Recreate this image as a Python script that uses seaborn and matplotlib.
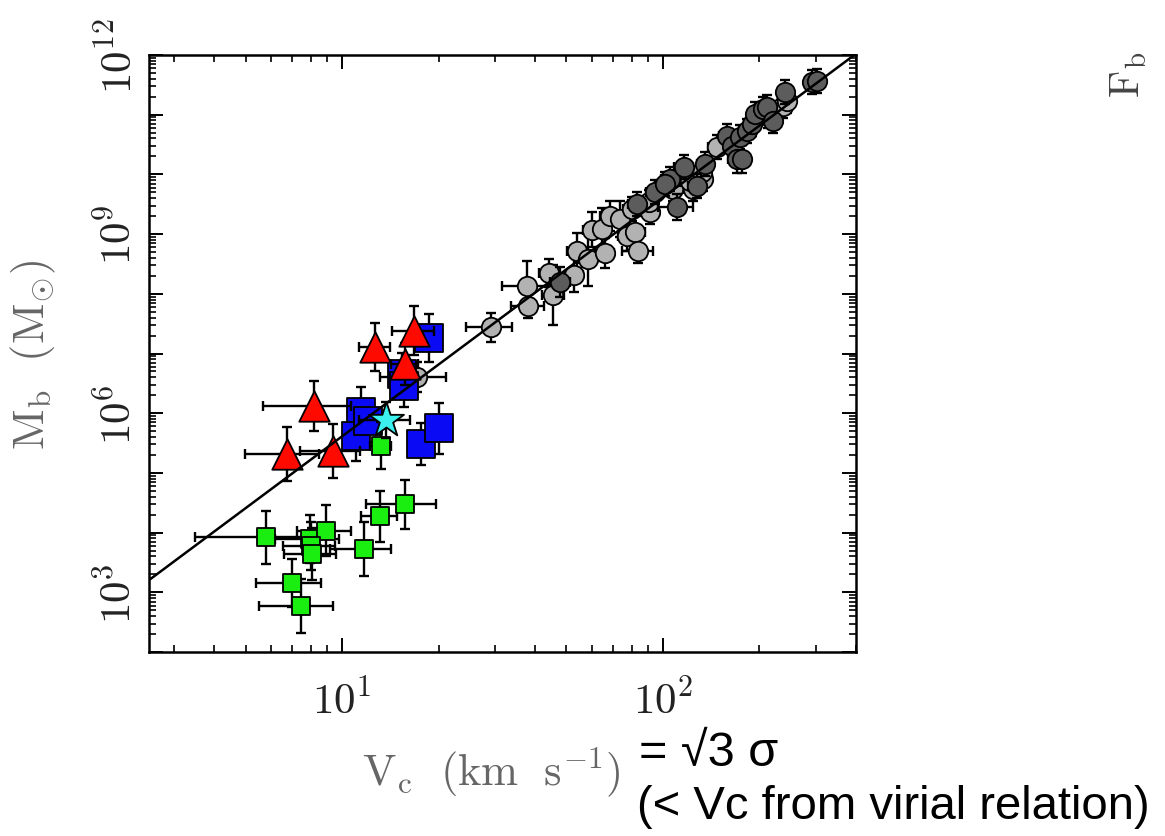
import numpy as np
import pandas as pd
import matplotlib
matplotlib.use("Agg")
import matplotlib.pyplot as plt
from matplotlib.ticker import FixedLocator, FixedFormatter, LogLocator, NullFormatter
import seaborn as sns

# ---------------- data ----------------
# light-gray circles (V_c km/s, M_b Msun, xerr km/s, yerr dex)
gl_v = [29.1, 37.7, 38.1, 44.2, 45.5, 52.9, 54.1, 58.3, 65.9, 60.2, 64.7, 68.5, 73.6, 77.3,
        82.0, 83.9, 80.1, 91.3, 90.2, 107.9, 113.2, 124.5, 121.6, 133.8, 132.3, 147.3,
        213.3, 237.5, 243.4, 17.1]
gl_m = [2.73e7, 1.34e8, 6.25e7, 2.23e8, 9.5e7, 2.1e8, 5.3e8, 3.76e8, 4.9e8, 1.19e9, 1.22e9,
        2.03e9, 1.79e9, 9.4e8, 1.07e9, 5.3e8, 2.63e9, 2.32e9, 3.41e9, 5.69e9, 9.5e9, 5.69e9,
        7.8e9, 8.4e9, 1.08e10, 2.85e10, 9.6e10, 1.42e11, 1.72e11, 4.04e6]
gl_xerr = [4.8, 6.2, 4.4, 3.0, 3.5, 3.5, 4.0, 4.0, 4.5, 4.0, 4.0, 5.0, 5.0, 5.0,
           6.0, 9.5, 5.0, 6.0, 6.0, 7.0, 7.0, 9.0, 8.0, 8.0, 8.0, 9.0,
           10.0, 10.0, 10.0, 4.0]
gl_yerr = [0.24, 0.43, 0.20, 0.23, 0.50, 0.30, 0.30, 0.44, 0.25, 0.30, 0.35, 0.25, 0.30, 0.25,
           0.35, 0.20, 0.20, 0.20, 0.20, 0.20, 0.20, 0.20, 0.20, 0.20, 0.20, 0.20,
           0.20, 0.20, 0.20, 0.25]

# dark-gray circles
gd_v = [47.9, 83.0, 94.6, 110.5, 105.4, 116.0, 135.4, 158.3, 164.1, 170.1, 176.2, 174.1,
        182.7, 189.4, 193.9, 205.8, 210.9, 221.1, 240.4, 291.2, 301.9, 101.7, 128.0]
gd_m = [1.56e8, 3.19e9, 5.0e9, 2.81e9, 8.4e9, 1.31e10, 1.49e10, 4.45e10, 3.03e10, 1.81e10,
        1.81e10, 4.18e10, 5.4e10, 6.98e10, 1.03e11, 1.24e11, 1.33e11, 7.95e10, 2.37e11,
        3.49e11, 3.72e11, 6.9e9, 6.4e9]
gd_xerr = [3.5, 5.0, 6.0, 14.0, 7.0, 8.0, 8.0, 9.0, 9.0, 10.0, 10.0, 10.0,
           10.0, 10.0, 10.0, 10.0, 10.0, 10.0, 10.0, 12.0, 12.0, 7.0, 8.0]
gd_yerr = [0.25, 0.20, 0.20, 0.22, 0.20, 0.20, 0.20, 0.20, 0.20, 0.24, 0.24, 0.20,
           0.20, 0.20, 0.20, 0.20, 0.20, 0.20, 0.20, 0.20, 0.20, 0.20, 0.20]

# red triangles
red_v = [12.7, 16.8, 15.7, 8.16, 6.74, 9.38]
red_m = [1.27e7, 2.4e7, 6.7e6, 1.34e6, 2.07e5, 2.36e5]
red_xerr = [1.4, 2.5, 1.5, 2.5, 1.75, 2.0]
red_yerr = [0.40, 0.41, 0.35, 0.42, 0.45, 0.45]

# blue squares
blue_v = [18.6, 15.4, 15.6, 11.46, 11.06, 12.08, 17.6, 20.0]
blue_m = [1.8e7, 4.5e6, 2.86e6, 1.03e6, 4.2e5, 7.4e5, 3.05e5, 5.6e5]
blue_xerr = [1.0, 1.0, 1.0, 1.0, 1.0, 1.0, 1.0, 1.0]
blue_yerr = [0.40, 0.35, 0.35, 0.42, 0.42, 0.35, 0.35, 0.43]

# green squares
green_v = [13.2, 5.77, 7.96, 8.93, 8.02, 8.08, 11.68, 13.15, 15.74, 6.98, 7.45]
green_m = [2.86e5, 8.3e3, 7.8e3, 1.08e4, 5.97e3, 4.4e3, 5.3e3, 1.88e4, 3.0e4, 1.43e3, 582]
green_xerr = [1.0, 2.3, 1.8, 1.7, 1.5, 1.5, 2.5, 1.7, 3.85, 1.6, 1.95]
green_yerr = [0.39, 0.45, 0.40, 0.43, 0.40, 0.43, 0.45, 0.43, 0.41, 0.40, 0.45]

# cyan star
star_v = [13.75]
star_m = [7.8e5]
star_xerr = [2.5]
star_yerr = [0.30]

# baryonic Tully-Fisher line  M = A * V^4
btf_slope = 4.0
btf_norm = 41.0

xtick_vals = [10, 100]
xtick_labels = [r'$10^{1}$', r'$10^{2}$']
ytick_vals = [1e2, 1e3, 1e4, 1e5, 1e6, 1e7, 1e8, 1e9, 1e10, 1e11, 1e12]
ytick_labels = ['', r'$10^{3}$', '', '', r'$10^{6}$', '', '', r'$10^{9}$', '', '', r'$10^{12}$']

# ---------------- plot ----------------
sns.set_theme(style="ticks")
plt.rcParams['mathtext.fontset'] = 'cm'
plt.rcParams['font.family'] = ['DejaVu Serif', 'DejaVu Sans']

fig = plt.figure(figsize=(11.65, 8.37), dpi=100)
ax = fig.add_axes([149 / 1165, 1 - 653 / 837, 707 / 1165, 597 / 837])
ax.set_xscale('log')
ax.set_yscale('log')

groups = [
    dict(v=gl_v, m=gl_m, xe=gl_xerr, ye=gl_yerr, marker='o', s=195, color='#b2b2b2'),
    dict(v=gd_v, m=gd_m, xe=gd_xerr, ye=gd_yerr, marker='o', s=195, color='#5c5c5c'),
    dict(v=blue_v, m=blue_m, xe=blue_xerr, ye=blue_yerr, marker='s', s=380, color='#0a0af5'),
    dict(v=red_v, m=red_m, xe=red_xerr, ye=red_yerr, marker='^', s=480, color='#ff0a00'),
    dict(v=green_v, m=green_m, xe=green_xerr, ye=green_yerr, marker='s', s=165, color='#1aee10'),
    dict(v=star_v, m=star_m, xe=star_xerr, ye=star_yerr, marker='*', s=700, color='#3cf0f0'),
]

for i, g in enumerate(groups):
    v = np.array(g['v'])
    m = np.array(g['m'])
    ye = np.array(g['ye'])
    lo = m - m * 10 ** (-ye)
    hi = m * 10 ** ye - m
    ax.errorbar(v, m, xerr=g['xe'], yerr=[lo, hi], fmt='none', ecolor='black',
                elinewidth=1.7, capsize=3.4, capthick=1.7, zorder=2 + 2 * i)
    df = pd.DataFrame({'V': v, 'M': m})
    sns.scatterplot(data=df, x='V', y='M', marker=g['marker'], s=g['s'], color=g['color'],
                    edgecolor='black', linewidth=1.3, ax=ax, zorder=3 + 2 * i, legend=False)

vline = np.logspace(np.log10(2.5), np.log10(400), 60)
sns.lineplot(x=vline, y=btf_norm * vline ** btf_slope, color='black', lw=1.8, ax=ax,
             zorder=30, sort=False)

ax.set_xlim(2.5, 400)
ax.set_ylim(1e2, 1e12)

ax.xaxis.set_major_locator(FixedLocator(xtick_vals))
ax.xaxis.set_major_formatter(FixedFormatter(xtick_labels))
ax.xaxis.set_minor_locator(LogLocator(base=10, subs=np.arange(2, 10), numticks=20))
ax.xaxis.set_minor_formatter(NullFormatter())
ax.yaxis.set_major_locator(FixedLocator(ytick_vals))
ax.yaxis.set_major_formatter(FixedFormatter(ytick_labels))
ax.yaxis.set_minor_locator(LogLocator(base=10, subs=np.arange(2, 10), numticks=30))
ax.yaxis.set_minor_formatter(NullFormatter())

ax.tick_params(which='both', direction='in', top=True, right=True, color='black',
               labelcolor='#222222', labelsize=31)
ax.tick_params(which='major', length=10, width=1.4)
ax.tick_params(which='minor', length=5, width=1.2)
ax.tick_params(axis='x', which='major', pad=19)
ax.tick_params(axis='y', which='major', pad=6)
for lbl in ax.get_yticklabels():
    lbl.set_rotation(90)
    lbl.set_va('center')
for sp in ax.spines.values():
    sp.set_linewidth(1.8)
    sp.set_color('black')

ax.set_xlabel(r'$\mathrm{V_c\ \ (km\ \ s^{-1})}$', fontsize=32, color='#666666')
ax.xaxis.set_label_coords(0.485, -0.2)
ax.xaxis.label.set_va('center')
ax.set_ylabel(r'$\mathrm{M_b\ \ (M_{\odot})}$', fontsize=32, color='#666666')
ax.yaxis.set_label_coords(-0.163, 0.5)
ax.yaxis.label.set_va('center')

sans = ['Liberation Sans', 'DejaVu Sans']
fig.text(639 / 1165, 1 - 753 / 837, '= \u221a3 \u03c3', fontsize=35, family=sans,
         color='black', ha='left', va='center')
fig.text(637 / 1165, 1 - 807 / 837, '(< Vc from virial relation)', fontsize=34, family=sans,
         color='black', ha='left', va='center')
fig.text(1128 / 1165, 1 - 75 / 837, r'$\mathrm{F_b}$', fontsize=30, color='#444444',
         rotation=90, ha='center', va='center')

fig.savefig('out.png', dpi=100)
